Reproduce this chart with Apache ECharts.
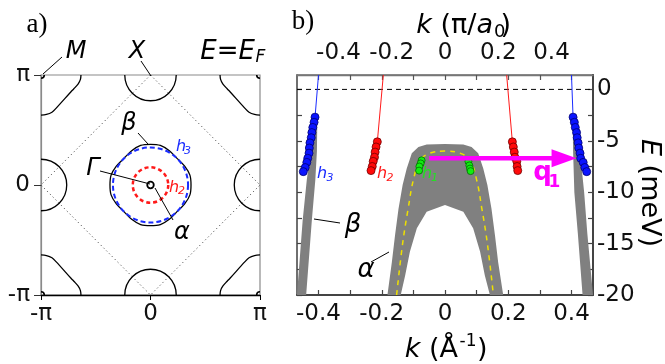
<!DOCTYPE html>
<html>
<head>
<meta charset="utf-8">
<script src="https://cdn.jsdelivr.net/npm/echarts@6/dist/echarts.min.js"></script>
<style>
html, body { margin: 0; padding: 0; background: #fff; }
#main { width: 665px; height: 364px; }
</style>
</head>
<body>
<div id="main"></div>
<script>
// ---- panel a: Fermi surface at E = E_F, coordinates in units of pi ----
var aTickVals = [-1, 0, 1];
var aTickLabels = ['-π', '0', 'π'];
// beta pocket around Gamma (closed)
var betaGamma = [[0.37,0],[0.36,0.09],[0.312,0.172],[0.242,0.242],[0.172,0.312],[0.09,0.36],[0,0.37],
  [-0.09,0.36],[-0.172,0.312],[-0.242,0.242],[-0.312,0.172],[-0.36,0.09],[-0.37,0],[-0.36,-0.09],
  [-0.312,-0.172],[-0.242,-0.242],[-0.172,-0.312],[-0.09,-0.36],[0,-0.37],[0.09,-0.36],[0.172,-0.312],
  [0.242,-0.242],[0.312,-0.172],[0.36,-0.09]];
// pocket at the M corner (1,1); other corners are mirrored
var mPocket = [[0.635,1],[0.64,0.96],[0.66,0.92],[0.70,0.875],[0.726,0.848],[0.863,0.697],[0.9,0.662],[0.95,0.642],[1,0.636]];
var mCorners = [[1,1],[-1,1],[1,-1],[-1,-1]];
// circles: [cx, cy, r]
var xPockets = [[0,1,0.235],[0,-1,0.235],[1,0,0.235],[-1,0,0.235]];
var mDots = [[1,1,0.03],[-1,1,0.03],[1,-1,0.03],[-1,-1,0.03]];
var h3Circle = [[0,0,0.343]];
var h2Circle = [[0,0,0.162]];
var gammaDot = [[0,0,0.03]];
var zoneDiamond = [[0,1],[1,0],[0,-1],[-1,0],[0,1]];

// ---- panel b: dispersion, k in 1/Angstrom, E in meV ----
var kTicks = [-0.4,-0.3,-0.2,-0.1,0,0.1,0.2,0.3,0.4];
var kLabels = [-0.4,-0.2,0,0.2,0.4];
var kPiLabels = [-0.4,-0.2,0,0.2,0.4];
var eTicks = [-20,-17.5,-15,-12.5,-10,-7.5,-5,-2.5,0];
var eLabels = [-20,-15,-10,-5,0];

var alphaOuter = [[-0.182,-20],[-0.168,-16.8],[-0.158,-14.2],[-0.147,-11.6],[-0.134,-9.3],[-0.121,-7.7],
  [-0.105,-6.2],[-0.084,-5.6],[-0.058,-5.35],[0,-5.3],[0.058,-5.35],[0.084,-5.6],[0.105,-6.2],
  [0.121,-7.7],[0.134,-9.3],[0.147,-11.6],[0.158,-14.2],[0.168,-16.8],[0.184,-20]];
var alphaInner = [[0.142,-20],[0.126,-18.1],[0.111,-15.8],[0.089,-13.5],[0.058,-11.9],[0,-11.25],
  [-0.058,-11.9],[-0.089,-13.5],[-0.111,-15.8],[-0.126,-18.1],[-0.14,-20]];
var betaLeft = [[-0.404,-3.5],[-0.405,-6],[-0.410,-8.8],[-0.421,-12.7],[-0.439,-20],
  [-0.468,-20],[-0.450,-12.7],[-0.437,-8.8],[-0.425,-6],[-0.415,-3.5]];
var betaRight = [[0.404,-3.5],[0.405,-6],[0.409,-10],[0.42,-14],[0.435,-20],
  [0.468,-20],[0.45,-14],[0.44,-10],[0.43,-7],[0.415,-3.5]];
var alphaDash = [[-0.153,-20],[-0.134,-15],[-0.116,-11.5],[-0.100,-8.8],[-0.079,-6.9],[-0.047,-6.2],
  [0,-6.0],[0.047,-6.2],[0.079,-6.9],[0.100,-8.8],[0.116,-11.5],[0.134,-15],[0.153,-20]];

var h3E = [-2.7,-3.2,-3.7,-4.2,-4.7,-5.2,-5.7,-6.2,-6.7,-7.1,-7.6,-8.0];
var h3KLeft = [-0.411,-0.414,-0.418,-0.421,-0.423,-0.427,-0.429,-0.430,-0.434,-0.437,-0.442,-0.448];
var h3KRight = [0.405,0.409,0.412,0.416,0.418,0.421,0.423,0.427,0.429,0.437,0.442,0.448];
var h2E = [-5.1,-5.6,-6.1,-6.6,-7.0,-7.5,-7.9];
var h2KLeft = [-0.214,-0.218,-0.221,-0.223,-0.227,-0.230,-0.234];
var h2KRight = [0.213,0.216,0.219,0.221,0.227,0.228,0.230];
var h1ELeft = [-6.9,-7.2,-7.5,-7.9];
var h1KLeft = [-0.074,-0.077,-0.081,-0.082];
var h1ERight = [-7.0,-7.4,-7.7,-7.95];
var h1KRight = [0.074,0.077,0.079,0.081];
var h3TopK = [-0.40, 0.40];
var h2TopK = [-0.195, 0.195];
var eTop = 1.4;
var q1K = [-0.05, 0.416];
var q1E = -6.7;

var FONT = 'DejaVu Sans';
var BLUE = '#1a2cff', RED = '#ff1a1a', GREEN = '#22e022', MAG = '#ff00ff';

function zip(ks, es) {
    var out = [];
    for (var i = 0; i < ks.length; i++) out.push([ks[i], es[i]]);
    return out;
}
function fmtK(v) { return Math.abs(v) < 1e-9 ? '0' : v.toFixed(1); }

function circles(data, color, width, dash) {
    return {
        type: 'custom', xAxisIndex: 0, yAxisIndex: 0, clip: true, z: 3, data: data,
        renderItem: function (params, api) {
            var c = api.coord([api.value(0), api.value(1)]);
            var r = api.size([api.value(2), api.value(2)])[0];
            return {type: 'circle', shape: {cx: c[0], cy: c[1], r: r},
                style: {fill: 'none', stroke: color, lineWidth: width, lineDash: dash || null}};
        }
    };
}
// smooth contour through the given points (closed or open), panel a
function contour(pts, closed) {
    return {
        type: 'custom', xAxisIndex: 0, yAxisIndex: 0, clip: true, z: 2, data: pts,
        renderItem: function (params, api) {
            if (params.dataIndex !== 0) return null;
            var p = pts.map(function (d) { return api.coord(d); });
            return {type: closed ? 'polygon' : 'polyline', shape: {points: p, smooth: 0.35},
                style: {fill: 'none', stroke: '#000', lineWidth: 1.3}};
        }
    };
}
function band(pts, color) {
    return {
        type: 'custom', xAxisIndex: 1, yAxisIndex: 1, clip: true, z: 1, data: pts,
        renderItem: function (params, api) {
            if (params.dataIndex !== 0) return null;
            var p = pts.map(function (d) { return api.coord(d); });
            return {type: 'polygon', shape: {points: p}, style: {fill: color}};
        }
    };
}
function curveA(data, style) {
    return {type: 'line', xAxisIndex: 0, yAxisIndex: 0, data: data, showSymbol: false,
        lineStyle: style, z: 2, silent: true};
}
function curveB(data, style, smooth, z) {
    return {type: 'line', xAxisIndex: 1, yAxisIndex: 1, data: data, showSymbol: false, smooth: smooth || false,
        lineStyle: style, z: z || 2, silent: true};
}
function dots(data, color, edge, size) {
    return {type: 'scatter', xAxisIndex: 1, yAxisIndex: 1, data: data, symbolSize: size, z: 4,
        itemStyle: {color: color, borderColor: edge, borderWidth: 0.8, opacity: 1}};
}
function txt(t, x, y, o) {
    o = o || {};
    var al = o.align || 'center';
    return {type: 'text', x: x, y: y, rotation: o.rot || 0, z: 100,
        style: {text: t, fontSize: o.size || 24, fontFamily: o.family || FONT,
            fontStyle: o.italic ? 'italic' : 'normal', fontWeight: o.bold ? 'bold' : 'normal',
            fill: o.color || '#000', align: al, textAlign: al, verticalAlign: 'middle', textVerticalAlign: 'middle',
            rich: o.rich}};
}
function seg(x1, y1, x2, y2) {
    return {type: 'line', z: 100, shape: {x1: x1, y1: y1, x2: x2, y2: y2}, style: {stroke: '#000', lineWidth: 1}};
}
var italicRich = {i: {fontStyle: 'italic', fontSize: 27, fontFamily: FONT, fill: '#000'}};

var series = [];
series.push(curveA(zoneDiamond, {color: '#333', width: 1, type: [1, 3]}));
series.push(contour(betaGamma, true));
mCorners.forEach(function (c) {
    series.push(contour(mPocket.map(function (p) { return [p[0] * c[0], p[1] * c[1]]; }), false));
});
series.push(circles(xPockets, '#000', 1.3));
series.push(circles(mDots, '#000', 1.6));
series.push(circles(h3Circle, BLUE, 2, [5, 3]));
series.push(circles(h2Circle, RED, 2.5, [4, 3]));
series.push(circles(gammaDot, '#000', 1.8));

series.push(band(alphaOuter.concat(alphaInner), '#808080'));
series.push(band(betaLeft, '#808080'));
series.push(band(betaRight, '#808080'));
series.push(curveB([[-0.468, 0], [0.468, 0]], {color: '#000', width: 1, type: [5, 4]}));
series.push(curveB(alphaDash, {color: '#eee000', width: 1.5, type: [5, 5]}, 0.4, 2));
series.push(curveB([[h3TopK[0], eTop], [h3KLeft[0], h3E[0]]], {color: BLUE, width: 1}));
series.push(curveB([[h3TopK[1], eTop], [h3KRight[0], h3E[0]]], {color: BLUE, width: 1}));
series.push(curveB([[h2TopK[0], eTop], [h2KLeft[0], h2E[0]]], {color: RED, width: 1}));
series.push(curveB([[h2TopK[1], eTop], [h2KRight[0], h2E[0]]], {color: RED, width: 1}));
series.push(dots(zip(h3KLeft, h3E), '#0a14ff', '#000070', 8));
series.push(dots(zip(h3KRight, h3E), '#0a14ff', '#000070', 8));
series.push(dots(zip(h2KLeft, h2E), '#ff0a0a', '#700000', 8));
series.push(dots(zip(h2KRight, h2E), '#ff0a0a', '#700000', 8));
series.push(dots(zip(h1KLeft, h1ELeft), '#10ee10', '#007000', 7));
series.push(dots(zip(h1KRight, h1ERight), '#10ee10', '#007000', 7));
series.push({
    type: 'custom', xAxisIndex: 1, yAxisIndex: 1, z: 6, data: [[q1K[0], q1E, q1K[1], q1E]],
    renderItem: function (params, api) {
        var a = api.coord([api.value(0), api.value(1)]);
        var b = api.coord([api.value(2), api.value(3)]);
        var hl = 25, hw = 9;
        return {type: 'group', children: [
            {type: 'line', shape: {x1: a[0], y1: a[1], x2: b[0] - hl + 2, y2: b[1]}, style: {stroke: MAG, lineWidth: 4.5}},
            {type: 'polygon', shape: {points: [[b[0], b[1]], [b[0] - hl, b[1] - hw], [b[0] - hl, b[1] + hw]]}, style: {fill: MAG}}
        ]};
    }
});

var tickFont = {fontSize: 23, fontFamily: FONT, color: '#111'};

var option = {
    animation: false,
    backgroundColor: '#fff',
    grid: [
        {left: 41, top: 75, width: 219, height: 220, show: true, borderColor: '#8a8a8a', borderWidth: 1.2, backgroundColor: 'transparent'},
        {left: 297, top: 75, width: 296, height: 220, show: true, borderColor: '#666', borderWidth: 1.5, backgroundColor: 'transparent'}
    ],
    xAxis: [
        {gridIndex: 0, type: 'value', min: -1, max: 1, interval: 1, position: 'bottom',
            axisLine: {show: true, onZero: false, lineStyle: {color: '#000', width: 1.3}},
            axisTick: {show: true, inside: false, length: 5, lineStyle: {color: '#000'}},
            axisLabel: Object.assign({margin: 8, formatter: function (v) { return aTickLabels[aTickVals.indexOf(v)]; }}, tickFont),
            splitLine: {show: false}},
        {gridIndex: 1, type: 'value', min: -0.468, max: 0.468, position: 'bottom',
            axisLine: {show: true, onZero: false, lineStyle: {color: '#444', width: 2}},
            axisTick: {show: true, inside: true, length: 5, customValues: kTicks, lineStyle: {color: '#444', width: 1.2}},
            axisLabel: Object.assign({margin: 8, customValues: kLabels, formatter: fmtK}, tickFont),
            splitLine: {show: false}},
        {gridIndex: 1, type: 'value', min: -0.468, max: 0.468, position: 'top',
            axisLine: {show: true, onZero: false, lineStyle: {color: '#777', width: 1.3}},
            axisTick: {show: true, inside: true, length: 5, customValues: kTicks, lineStyle: {color: '#555', width: 1.2}},
            axisLabel: {show: false}, splitLine: {show: false}},
        {gridIndex: 1, type: 'value', min: -0.556, max: 0.556, position: 'top',
            axisLine: {show: false}, axisTick: {show: false},
            axisLabel: Object.assign({margin: 10, customValues: kPiLabels, formatter: fmtK}, tickFont),
            splitLine: {show: false}}
    ],
    yAxis: [
        {gridIndex: 0, type: 'value', min: -1, max: 1, interval: 1, position: 'left',
            axisLine: {show: true, onZero: false, lineStyle: {color: '#8a8a8a', width: 1.2}},
            axisTick: {show: true, inside: false, length: 7, lineStyle: {color: '#333'}},
            axisLabel: Object.assign({margin: 11, formatter: function (v) { return aTickLabels[aTickVals.indexOf(v)]; }}, tickFont),
            splitLine: {show: false}},
        {gridIndex: 1, type: 'value', min: -20, max: eTop, position: 'right',
            axisLine: {show: true, onZero: false, lineStyle: {color: '#444', width: 2}},
            axisTick: {show: true, inside: true, length: 5, customValues: eTicks, lineStyle: {color: '#444', width: 1.2}},
            axisLabel: Object.assign({margin: 4, customValues: eLabels, formatter: function (v) { return String(v); }}, tickFont),
            splitLine: {show: false}},
        {gridIndex: 1, type: 'value', min: -20, max: eTop, position: 'left',
            axisLine: {show: true, onZero: false, lineStyle: {color: '#666', width: 1.5}},
            axisTick: {show: true, inside: true, length: 5, customValues: eTicks, lineStyle: {color: '#444', width: 1.2}},
            axisLabel: {show: false}, splitLine: {show: false}}
    ],
    series: series,
    graphic: [
        // panel a labels
        txt('a)', 37, 25, {family: 'Liberation Serif', size: 27}),
        txt('M', 76, 52, {italic: true}), seg(43, 74, 62, 57),
        txt('X', 137, 52, {italic: true}), seg(141, 61, 151, 76),
        txt('E=E', 255, 52, {italic: true, align: 'right', size: 26}),
        txt('F', 255.5, 58, {italic: true, align: 'left', size: 17}),
        txt('β', 129, 124, {italic: true}), seg(138, 133, 148, 144),
        txt('h', 181, 147, {italic: true, size: 16, color: BLUE}),
        txt('3', 187.5, 151, {italic: true, size: 11, color: BLUE}),
        txt('Γ', 93, 169, {italic: true}), seg(100, 171, 150, 184),
        txt('h', 174, 187.5, {italic: true, size: 16, color: RED}),
        txt('2', 181.5, 191, {italic: true, size: 11, color: RED}),
        txt('α', 182, 233, {italic: true}), seg(155, 188, 173, 220),
        // panel b labels
        txt('b)', 303, 22, {family: 'Liberation Serif', size: 27}),
        txt('{i|k} (π/{i|a}', 493, 26, {size: 27, align: 'right', rich: italicRich}),
        txt('0', 494, 32, {size: 18, align: 'left'}),
        txt(')', 500.5, 26, {size: 27, align: 'left'}),
        txt('{i|k} (Å', 458, 350, {size: 27, align: 'right', rich: italicRich}),
        txt('-1', 459.5, 342, {size: 17, align: 'left'}),
        txt(')', 477, 350, {size: 27, align: 'left'}),
        txt('{i|E} (meV)', 649, 193, {size: 27, rot: -Math.PI / 2, rich: italicRich}),
        txt('h', 322, 174, {italic: true, size: 16, color: BLUE}),
        txt('3', 330, 178, {italic: true, size: 11, color: BLUE}),
        txt('h', 382, 174, {italic: true, size: 16, color: RED}),
        txt('2', 390, 178, {italic: true, size: 11, color: RED}),
        txt('h', 427, 174, {italic: true, size: 16, color: GREEN}),
        txt('1', 434.5, 178, {italic: true, size: 11, color: GREEN}),
        txt('q', 542.5, 173, {bold: true, size: 26, color: MAG}),
        txt('1', 554.5, 183, {bold: true, size: 17, color: MAG}),
        txt('β', 353, 225, {italic: true, size: 26}), seg(314, 219, 340, 223),
        txt('α', 366, 270, {italic: true, size: 26}), seg(371, 262, 389, 252)
    ]
};

var chart = echarts.init(document.getElementById('main'));
chart.setOption(option);
</script>
</body>
</html>
